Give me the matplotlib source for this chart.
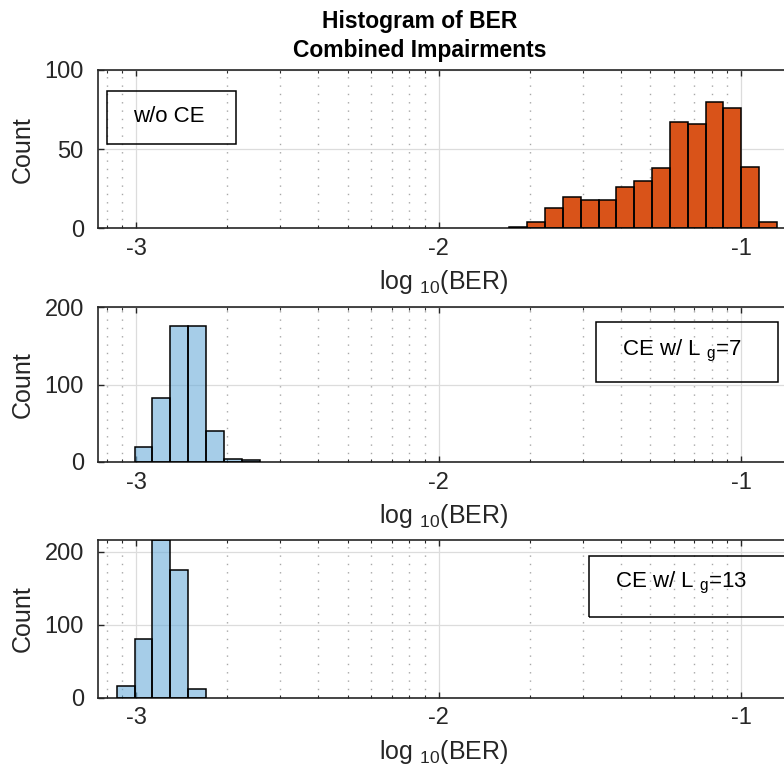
import matplotlib
matplotlib.use('Agg')
import matplotlib.pyplot as plt
from matplotlib.patches import Rectangle
import numpy as np

plt.rcParams['font.family'] = ['Liberation Sans', 'DejaVu Sans']
plt.rcParams['mathtext.fontset'] = 'custom'
plt.rcParams['mathtext.rm'] = 'Liberation Sans'
plt.rcParams['mathtext.it'] = 'Liberation Sans'
plt.rcParams['axes.unicode_minus'] = False

# ---- data: histogram of log10(BER), shared bin grid ----
BIN_WIDTH = 0.059
BIN_ORIGIN = -3.064

first_bin_woce = 22
counts_woce = [1, 4, 13, 20, 18, 18, 26, 30, 38, 67, 66, 80, 76, 39, 4]

first_bin_lg7 = 1
counts_lg7 = [19, 83, 176, 176, 40, 4, 2]

first_bin_lg13 = 0
counts_lg13 = [16, 81, 216, 175, 12]

panel_labels = ['w/o CE', 'CE w/ L $_{\\mathrm{g}}$=7', 'CE w/ L $_{\\mathrm{g}}$=13']
yticks_list = [[0, 50, 100], [0, 100, 200], [0, 100, 200]]
ylims = [100, 200, 216]
xticks = [-3, -2, -1]
xticklabels = ['-3', '-2', '-1']

ORANGE = '#D95319'
BLUE = (0.42, 0.68, 0.85)
AXC = '#262626'

W, H = 784, 774
fig = plt.figure(figsize=(W / 100, H / 100), dpi=100)


def px_rect(left, top, right, bottom):
    return [left / W, 1 - bottom / H, (right - left) / W, (bottom - top) / H]


axes_px = [(97.7, 70, 790, 228.3), (97.7, 307, 790, 462), (97.7, 540, 790, 697.7)]
xlim = (-3.127, -0.838)

# minor ticks at log positions
minor = [np.log10(k * 10.0 ** n) for n in range(-4, 0) for k in range(2, 10)]
minor = [m for m in minor if xlim[0] < m < xlim[1]]

panels = [
    (first_bin_woce, counts_woce, ORANGE, 1.0),
    (first_bin_lg7, counts_lg7, BLUE, 0.6),
    (first_bin_lg13, counts_lg13, BLUE, 0.6),
]

axs = []
for i, (first, counts, col, alpha) in enumerate(panels):
    l, t, r, b = axes_px[i]
    ax = fig.add_axes(px_rect(l, t, r, b))
    axs.append(ax)
    lefts = BIN_ORIGIN + BIN_WIDTH * (first + np.arange(len(counts)))
    ax.bar(lefts, counts, width=BIN_WIDTH, align='edge', color=col, alpha=alpha,
           edgecolor='none', zorder=2)
    ax.bar(lefts, counts, width=BIN_WIDTH, align='edge', facecolor='none',
           edgecolor='black', linewidth=1.1, zorder=3)

    ax.set_xlim(*xlim)
    ax.set_ylim(0, ylims[i])
    ax.set_xticks(xticks)
    ax.set_xticklabels(xticklabels)
    ax.set_xticks(minor, minor=True)
    ax.set_yticks(yticks_list[i])
    ax.set_axisbelow(True)

    ax.grid(True, which='major', color='#dcdcdc', linewidth=0.9, linestyle='-')
    ax.grid(True, which='minor', axis='x', color='#a8a8a8', linewidth=1.0,
            linestyle=(0, (1, 5)))

    ax.tick_params(which='both', direction='in', top=True, right=True, color=AXC)
    ax.tick_params(which='major', length=4.5, width=1.0)
    ax.tick_params(which='minor', length=2.5, width=0.8)
    ax.tick_params(axis='x', which='major', labelsize=17, pad=7, labelcolor=AXC)
    ax.tick_params(axis='y', which='major', labelsize=17, pad=10, labelcolor=AXC)
    for s in ax.spines.values():
        s.set_color(AXC)
        s.set_linewidth(1.2)

    ax.set_ylabel('Count', fontsize=18, color=AXC)
    ax.yaxis.set_label_coords((35 - l) / (r - l), 0.5)
    ax.set_xlabel('log $_{10}$(BER)', fontsize=18, color=AXC)
    ax.xaxis.set_label_coords((443.8 - l) / (r - l), -40 / (b - t))

# annotation boxes (figure pixel coords)
boxes = [(107.3, 90.7, 236, 144), (596, 321.7, 778.3, 382.3), (589, 556, 790, 617.3)]
text_pos = [(133.3, 121.7), (621.7, 355.0), (615.0, 587.7)]
for (bl, bt, br, bb), (tx, ty), lab in zip(boxes, text_pos, panel_labels):
    fig.add_artist(Rectangle((bl / W, 1 - bb / H), (br - bl) / W, (bb - bt) / H,
                             transform=fig.transFigure, fill=False,
                             edgecolor='black', linewidth=1.1))
    fig.text(tx / W, 1 - ty / H, lab, fontsize=16, ha='left', va='baseline',
             color='black')

fig.text(420 / W, 1 - 27.7 / H, 'Histogram of BER', fontsize=16.5, fontweight='bold',
         ha='center', va='baseline', color='black')
fig.text(420 / W, 1 - 57.3 / H, 'Combined Impairments', fontsize=16.5,
         fontweight='bold', ha='center', va='baseline', color='black')

fig.savefig('out.png', dpi=100)
